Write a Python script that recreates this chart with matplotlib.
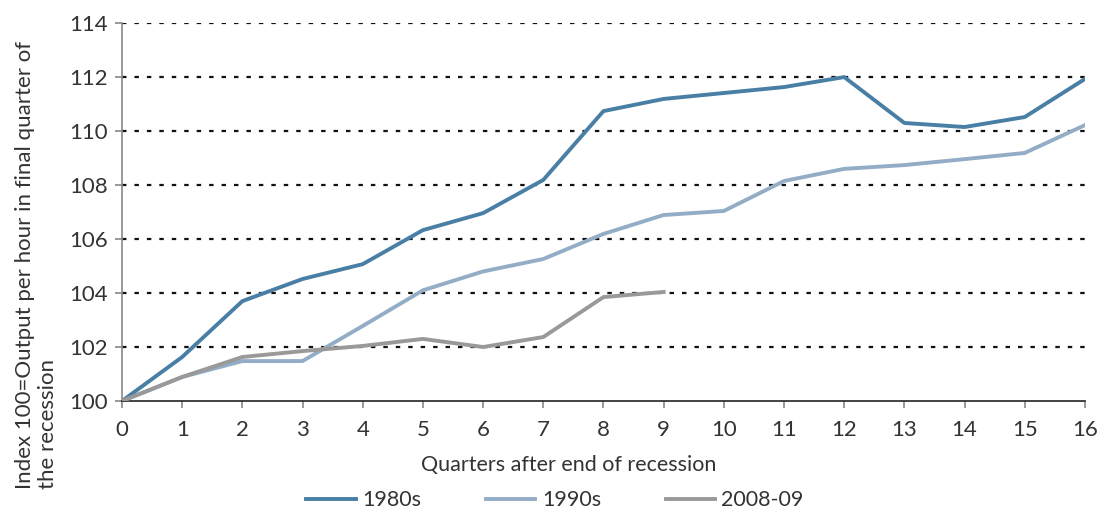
import matplotlib
matplotlib.use("Agg")
import matplotlib.pyplot as plt

# -------------------------
# Data
# -------------------------
quarters = list(range(17))
q_0809 = list(range(10))

s1980 = [100.0, 101.63, 103.7, 104.52, 105.07, 106.33, 106.96, 108.19, 110.74,
         111.19, 111.41, 111.63, 112.0, 110.3, 110.15, 110.52, 111.93]
s1990 = [100.0, 100.89, 101.48, 101.48, 102.78, 104.1, 104.8, 105.26, 106.19,
         106.89, 107.04, 108.15, 108.6, 108.74, 108.96, 109.19, 110.22]
s2008 = [100.0, 100.89, 101.63, 101.85, 102.04, 102.3, 102.0, 102.37, 103.85, 104.04]

labels = ["1980s", "1990s", "2008-09"]
yticks = [100, 102, 104, 106, 108, 110, 112, 114]

# -------------------------
# Plotting
# -------------------------
plt.rcParams['font.family'] = ['Lato', 'DejaVu Sans']
txt = '#333333'

fig = plt.figure(figsize=(10.97, 5.13), dpi=100)
ax = fig.add_axes([0.1112, 0.2183, 0.8778, 0.7367])

ax.plot(quarters, s1980, color='#4a7fa5', lw=2.8, label=labels[0], zorder=4)
ax.plot(quarters, s1990, color='#93adc7', lw=2.8, label=labels[1], zorder=3)
ax.plot(q_0809, s2008, color='#999999', lw=2.8, label=labels[2], zorder=5)

ax.set_xlim(0, 16)
ax.set_ylim(100, 114)
ax.set_xticks(quarters)
ax.set_yticks(yticks)

for y in yticks[1:]:
    ax.axhline(y, color='#111111', lw=1.6, linestyle=(0, (2, 3.6)), zorder=1)

for s in ['top', 'right']:
    ax.spines[s].set_visible(False)
ax.spines['left'].set_color('#888888')
ax.spines['left'].set_linewidth(1.2)
ax.spines['bottom'].set_color('#222222')
ax.spines['bottom'].set_linewidth(1.2)

ax.tick_params(axis='both', labelsize=16, colors='#888888', labelcolor=txt,
               length=5, width=1.2)
ax.tick_params(axis='x', pad=9)
ax.tick_params(axis='y', pad=5)

fig.text(0.518, 0.094, "Quarters after end of recession", ha='center', va='center',
         fontsize=15.5, color=txt)
fig.text(0.033, 0.483, "Index 100=Output per hour in final quarter of\nthe recession",
         rotation=90, ha='center', va='center', multialignment='left',
         fontsize=16, color=txt, linespacing=1.2)

fig.legend(loc='center', bbox_to_anchor=(0.506, 0.025), ncol=3, frameon=False,
           fontsize=15.5, handlelength=2.3, columnspacing=3.0, labelcolor=txt,
           handletextpad=0.3)

fig.savefig("out.png", dpi=100)
